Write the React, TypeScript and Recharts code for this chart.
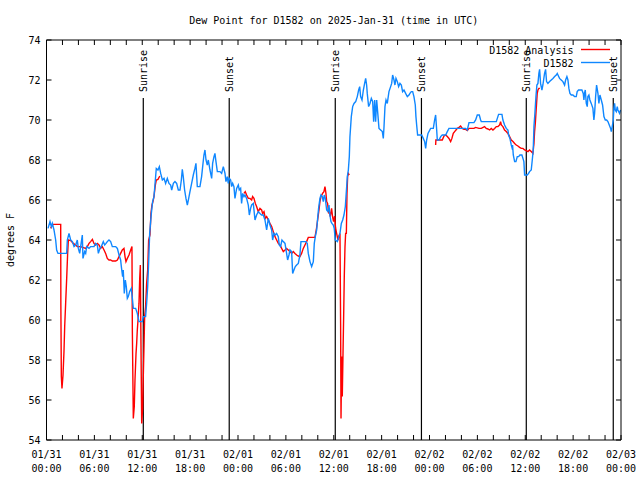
import React from "react";
import { LineChart, Line, XAxis, YAxis, ReferenceLine } from "recharts";

// hours since 01/31 00:00 UTC, dew point in °F
const OBS: [number, number][] = [
  [0.19, 64.58], [0.44, 64.92], [0.61, 64.67], [0.73, 64.83], [0.94, 64.5], [1.15, 64.0], [1.27, 63.5], [1.44, 63.33],
  [2.53, 63.33], [2.61, 64.0], [2.82, 64.33], [3.03, 64.0], [3.24, 63.92], [3.45, 63.67], [3.66, 63.75], [3.86, 64.0],
  [3.99, 63.58], [4.16, 63.33], [4.28, 63.67], [4.49, 64.25], [4.57, 63.08], [4.78, 63.42], [4.91, 63.33], [5.03, 63.67],
  [5.33, 63.58], [5.53, 63.67], [5.95, 63.67], [6.16, 63.83], [6.37, 63.75], [6.5, 63.33], [6.7, 63.58], [6.87, 63.67],
  [7.12, 63.92], [7.29, 63.75], [7.46, 63.83], [7.62, 63.92], [7.83, 64.0], [8.04, 63.92], [8.25, 63.67], [8.67, 63.67],
  [8.88, 63.58], [9.09, 63.25], [9.29, 63.0], [9.38, 62.67], [9.54, 62.17], [9.62, 62.5], [9.75, 61.33], [9.88, 62.0],
  [10.0, 61.67], [10.13, 61.08], [10.25, 61.17], [10.42, 61.42], [10.63, 61.58], [10.76, 61.08], [10.88, 60.58], [11.17, 60.58],
  [11.38, 60.33], [11.59, 59.92], [12.01, 59.92], [12.13, 60.17], [12.42, 60.17], [12.55, 60.83], [12.68, 61.67], [12.8, 62.83],
  [12.93, 64.33], [13.14, 65.33], [13.3, 65.92], [13.47, 66.17], [13.64, 67.0], [13.76, 67.58], [13.97, 67.5], [14.14, 67.67],
  [14.31, 67.33], [14.52, 67.0], [14.73, 67.08], [14.93, 66.83], [15.14, 67.08], [15.35, 66.83], [15.56, 66.75], [15.69, 66.5],
  [15.9, 66.83], [16.1, 66.92], [16.31, 66.83], [16.52, 66.5], [16.73, 66.5], [16.9, 67.0], [17.02, 67.53], [17.14, 67.17],
  [17.31, 66.5], [17.48, 66.08], [17.65, 65.75], [17.82, 66.08], [17.98, 66.42], [18.19, 66.83], [18.4, 67.25], [18.6, 67.58],
  [18.73, 67.83], [18.9, 66.67], [19.23, 66.67], [19.44, 67.17], [19.57, 67.67], [19.73, 68.25], [19.86, 68.5], [19.99, 68.0],
  [20.15, 67.75], [20.28, 68.0], [20.49, 67.5], [20.7, 67.08], [20.82, 67.83], [20.99, 68.17], [21.11, 68.33], [21.24, 67.92],
  [21.41, 67.42], [21.74, 67.42], [21.95, 67.33], [22.16, 67.67], [22.37, 67.33], [22.49, 66.92], [22.66, 67.17], [22.78, 66.83],
  [22.91, 67.08], [23.08, 67.0], [23.2, 66.67], [23.33, 66.83], [23.49, 66.67], [23.62, 66.08], [23.83, 66.58], [24.04, 66.75],
  [24.16, 66.5], [24.33, 66.58], [24.45, 65.83], [24.58, 66.33], [24.75, 66.17], [24.87, 66.25], [25.08, 66.08], [25.29, 65.75],
  [25.42, 65.25], [25.58, 65.58], [25.71, 65.75], [25.92, 65.83], [26.13, 65.0], [26.33, 65.25], [26.54, 65.42], [26.75, 65.33],
  [26.96, 65.25], [27.17, 65.25], [27.38, 65.0], [27.59, 64.5], [27.8, 65.08], [28.01, 64.75], [28.22, 64.5], [28.34, 64.0],
  [28.51, 64.33], [28.67, 64.25], [28.84, 64.33], [29.05, 64.17], [29.17, 63.75], [29.34, 63.67], [29.51, 64.0], [29.68, 63.92],
  [29.89, 63.83], [30.09, 63.33], [30.22, 63.0], [30.39, 63.25], [30.51, 63.5], [30.72, 63.42], [30.85, 62.33], [31.01, 62.5],
  [31.18, 62.67], [31.35, 62.75], [31.56, 62.83], [31.76, 63.25], [31.89, 63.92], [32.18, 63.92], [32.52, 63.92], [32.68, 63.83],
  [32.81, 63.33], [33.02, 62.92], [33.23, 62.67], [33.44, 62.92], [33.56, 63.83], [33.69, 64.17], [33.86, 64.5], [33.98, 65.08],
  [34.1, 65.58], [34.27, 66.08], [34.4, 66.25], [34.56, 66.17], [34.69, 65.92], [34.81, 66.25], [34.94, 66.08], [35.11, 65.5],
  [35.27, 65.42], [35.4, 65.75], [35.52, 65.25], [35.65, 64.92], [35.77, 64.83], [35.94, 64.75], [36.06, 64.58], [36.19, 64.0],
  [36.45, 63.92], [36.65, 64.17], [36.78, 64.33], [36.95, 64.83], [37.12, 65.0], [37.28, 65.25], [37.45, 65.67], [37.62, 66.67],
  [37.7, 67.17], [37.83, 67.5], [37.95, 68.17], [38.03, 69.17], [38.2, 70.17], [38.37, 70.67], [38.54, 70.83], [38.75, 70.92],
  [38.95, 71.17], [39.12, 71.5], [39.25, 71.67], [39.37, 71.17], [39.54, 71.0], [39.71, 71.5], [39.87, 71.83], [40.0, 72.08],
  [40.12, 71.75], [40.2, 71.33], [40.37, 70.67], [40.54, 70.83], [40.71, 71.08], [40.88, 70.92], [41.0, 69.92], [41.13, 71.0],
  [41.25, 69.92], [41.38, 71.0], [41.5, 70.42], [41.67, 69.58], [41.88, 69.5], [42.09, 69.42], [42.21, 69.08], [42.3, 69.67],
  [42.42, 70.67], [42.55, 71.0], [42.71, 70.83], [42.92, 71.42], [43.13, 71.67], [43.26, 71.83], [43.38, 72.25], [43.55, 72.0],
  [43.67, 71.75], [43.8, 72.08], [43.97, 71.92], [44.13, 71.67], [44.3, 71.83], [44.47, 71.75], [44.63, 71.42], [44.8, 71.5],
  [45.01, 71.33], [45.22, 71.17], [45.43, 71.25], [45.55, 71.33], [45.72, 71.42], [45.89, 71.42], [46.05, 71.17], [46.22, 70.75],
  [46.3, 70.17], [46.39, 69.75], [46.51, 69.25], [46.81, 69.25], [47.02, 69.25], [47.22, 69.08], [47.39, 68.92], [47.52, 68.58],
  [47.64, 69.0], [47.81, 69.33], [48.14, 69.58], [48.48, 69.58], [48.64, 70.0], [48.77, 70.25], [48.9, 69.5], [48.98, 69.0],
  [49.19, 69.0], [49.4, 69.17], [49.6, 69.25], [49.82, 69.25], [50.03, 69.25], [50.23, 69.42], [50.44, 69.58], [51.07, 69.58],
  [51.9, 69.58], [52.53, 69.58], [52.74, 69.5], [52.95, 69.87], [53.57, 69.87], [53.78, 70.0], [53.99, 70.25], [54.24, 70.25],
  [54.41, 70.0], [54.49, 69.92], [56.37, 69.92], [56.5, 70.08], [56.66, 70.28], [57.08, 70.28], [57.2, 70.0], [57.41, 69.75],
  [57.62, 69.58], [57.83, 69.5], [57.91, 69.25], [58.08, 69.08], [58.25, 68.75], [58.33, 68.63], [58.41, 68.75], [58.5, 68.25],
  [58.67, 67.92], [58.83, 67.92], [59.0, 68.17], [59.17, 68.17], [59.33, 68.25], [59.58, 68.25], [59.71, 68.08], [59.83, 67.92],
  [59.92, 67.25], [60.25, 67.25], [60.42, 67.33], [60.54, 67.42], [60.75, 67.5], [60.88, 68.0], [61.0, 68.5], [61.09, 69.67],
  [61.21, 70.33], [61.34, 71.17], [61.46, 71.75], [61.59, 71.83], [61.71, 72.33], [61.8, 72.53], [61.92, 71.83], [62.09, 71.5],
  [62.21, 71.75], [62.42, 72.33], [62.55, 72.53], [62.67, 71.92], [62.84, 71.83], [63.05, 71.92], [63.26, 72.0], [63.47, 72.08],
  [63.68, 72.17], [63.89, 72.25], [64.01, 72.33], [64.1, 72.25], [64.3, 72.08], [64.51, 72.0], [64.72, 71.92], [64.93, 71.75],
  [65.06, 72.0], [65.22, 72.17], [65.35, 72.0], [65.47, 71.58], [65.6, 71.33], [65.77, 71.25], [65.97, 71.25], [66.18, 71.17],
  [66.39, 71.17], [66.51, 71.42], [66.68, 71.5], [66.93, 71.5], [67.1, 71.5], [67.27, 71.33], [67.35, 71.0], [67.43, 71.33],
  [67.52, 71.5], [67.65, 70.83], [67.77, 70.67], [67.85, 71.17], [67.98, 71.25], [68.1, 71.0], [68.27, 70.83], [68.48, 70.58],
  [68.6, 70.0], [68.69, 70.33], [68.82, 71.17], [68.94, 71.75], [69.11, 71.33], [69.23, 70.83], [69.36, 71.25], [69.53, 71.0],
  [69.69, 70.75], [69.86, 70.17], [70.03, 70.0], [70.2, 70.0], [70.36, 69.92], [70.53, 69.75], [70.7, 69.58], [70.78, 69.42],
  [70.9, 69.67], [71.03, 70.0], [71.11, 70.58], [71.2, 70.83], [71.28, 70.5], [71.41, 70.42], [71.53, 70.67], [71.61, 70.5],
  [71.82, 70.33], [71.95, 70.5],
];

// null = no analysis value (breaks the line)
const ANALYSIS: [number, number | null][] = [
  [0.52, 64.58], [0.73, 64.75], [0.86, 64.78], [1.78, 64.78], [1.8, 60.75], [1.86, 57.17], [1.94, 56.58], [2.07, 57.25],
  [2.19, 58.42], [2.28, 59.67], [2.4, 60.83], [2.53, 62.08], [2.65, 63.33], [2.74, 64.0], [3.03, 63.97], [3.36, 63.83],
  [3.66, 63.75], [3.86, 63.67], [4.28, 63.67], [4.91, 63.58], [5.12, 63.67], [5.33, 63.83], [5.53, 63.92], [5.75, 64.03],
  [5.95, 63.83], [6.16, 63.75], [6.37, 63.83], [6.58, 63.75], [6.79, 63.58], [7.0, 63.67], [7.21, 63.5], [7.41, 63.33],
  [7.62, 63.08], [7.83, 63.0], [8.04, 63.0], [8.25, 62.95], [8.67, 62.95], [8.88, 63.0], [9.09, 63.17], [9.29, 63.33],
  [9.5, 63.5], [9.71, 63.58], [9.84, 63.17], [9.96, 62.92], [10.13, 63.08], [10.34, 63.25], [10.55, 63.5], [10.71, 63.67],
  [10.76, 59.42], [10.88, 55.08], [11.0, 55.67], [11.09, 57.0], [11.22, 58.33], [11.3, 58.83], [11.38, 59.5], [11.47, 60.0],
  [11.59, 60.83], [11.68, 62.08], [11.76, 62.75], [11.84, 58.83], [11.93, 54.83], [12.05, 55.58], [12.13, 57.17], [12.22, 58.67],
  [12.3, 60.17], [12.42, 60.67], [12.55, 61.83], [12.68, 62.5], [12.8, 64.0], [12.97, 64.25], [13.09, 65.33], [13.22, 65.75],
  [13.34, 65.92], [13.47, 66.17], [13.64, 66.75], [13.76, 67.0], [13.97, 67.03], [14.2, 67.2], [14.3, null],
  [24.75, 66.33], [24.91, 66.42], [25.08, 66.25], [25.29, 66.08], [25.5, 66.08], [25.71, 66.0], [25.83, 66.17], [26.0, 66.08],
  [26.17, 65.83], [26.33, 65.67], [26.54, 65.42], [26.75, 65.58], [26.96, 65.5], [27.09, 65.33], [27.26, 65.42], [27.42, 65.08],
  [27.59, 65.17], [27.8, 65.0], [28.0, 64.83], [28.22, 64.67], [28.42, 64.42], [28.63, 64.17], [28.84, 64.0], [29.05, 63.83],
  [29.26, 63.75], [29.47, 63.58], [29.68, 63.42], [29.89, 63.5], [30.09, 63.58], [30.3, 63.5], [30.51, 63.42], [30.72, 63.33],
  [30.93, 63.42], [31.14, 63.33], [31.35, 63.25], [31.56, 63.2], [31.76, 63.17], [31.97, 63.33], [32.18, 63.58], [32.39, 63.75],
  [32.6, 63.92], [32.81, 64.13], [33.64, 64.13], [33.81, 64.5], [33.98, 65.0], [34.15, 65.5], [34.27, 65.92], [34.4, 66.17],
  [34.6, 66.33], [34.77, 66.42], [34.9, 66.67], [35.02, 66.33], [35.11, 65.92], [35.23, 65.83], [35.36, 65.33], [35.44, 65.42],
  [35.56, 65.17], [35.73, 65.58], [35.85, 65.17], [35.98, 64.92], [36.1, 65.2], [36.23, 64.6], [36.36, 64.33], [36.53, 64.0],
  [36.65, 64.2], [36.78, 64.33], [36.86, 59.83], [36.91, 55.08], [36.99, 58.17], [37.07, 56.17], [37.16, 58.33], [37.24, 60.17],
  [37.32, 62.17], [37.41, 63.67], [37.49, 64.33], [37.58, 64.33], [37.66, 66.33], [37.74, 67.17], [37.83, 67.33], [37.95, 67.25],
  [38.0, null],
  [48.77, 68.75], [48.8, 69.0], [49.19, 69.0], [49.6, 69.0], [49.82, 69.2], [50.03, 69.25], [50.23, 69.17], [50.44, 69.08],
  [50.65, 68.92], [50.81, 69.08], [50.98, 69.33], [51.15, 69.42], [51.32, 69.5], [51.49, 69.58], [51.7, 69.63], [51.9, 69.7],
  [52.11, 69.58], [52.32, 69.53], [52.53, 69.53], [52.74, 69.47], [52.95, 69.58], [53.16, 69.58], [53.57, 69.58], [53.78, 69.63],
  [54.2, 69.58], [54.49, 69.58], [54.9, 69.67], [55.11, 69.58], [55.32, 69.55], [55.53, 69.5], [55.74, 69.58], [55.95, 69.5],
  [56.16, 69.58], [56.37, 69.67], [56.58, 69.67], [56.79, 69.75], [56.91, 69.92], [57.0, 69.75], [57.2, 69.67], [57.41, 69.5],
  [57.62, 69.42], [57.83, 69.33], [58.04, 69.17], [58.25, 69.0], [58.46, 68.92], [58.67, 68.83], [58.87, 68.75], [59.08, 68.7],
  [59.29, 68.63], [59.5, 68.58], [59.71, 68.58], [59.92, 68.5], [60.13, 68.47], [60.34, 68.42], [60.54, 68.5], [60.75, 68.42],
  [60.96, 68.33], [61.09, 68.83], [61.17, 69.42], [61.26, 69.83], [61.34, 70.33], [61.42, 70.83], [61.5, 71.33], [61.59, 71.5],
  [61.71, 71.58], [61.84, 71.58],
];

const HOUR_TICKS = [0, 2, 4, 6, 8, 10, 12, 14, 16, 18, 20, 22, 24, 26, 28, 30, 32, 34, 36, 38, 40, 42, 44, 46, 48, 50, 52, 54, 56, 58, 60, 62, 64, 66, 68, 70, 72];
const DATE_LABELS = ["01/31", "01/31", "01/31", "01/31", "02/01", "02/01", "02/01", "02/01", "02/02", "02/02", "02/02", "02/02", "02/03"];
const TIME_LABELS = ["00:00", "06:00", "12:00", "18:00", "00:00", "06:00", "12:00", "18:00", "00:00", "06:00", "12:00", "18:00", "00:00"];
const Y_TICKS = [54, 56, 58, 60, 62, 64, 66, 68, 70, 72, 74];

const SUN_HOURS = [12.13, 22.9, 36.19, 46.99, 60.13, 71.03];
const SUN_NAMES = ["Sunrise", "Sunset", "Sunrise", "Sunset", "Sunrise", "Sunset"];

const FONT = "'DejaVu Sans Mono', monospace";
const BLUE = "#0f87ff";
const RED = "#ff0000";
const TICK = 5;

function BottomTick(props: any) {
  const { x, y, payload } = props;
  const t = payload.value;
  const idx = t / 6;
  const labelled = Number.isInteger(idx);
  return (
    <g>
      <line x1={x} y1={y} x2={x} y2={y - TICK} stroke="#000" />
      {labelled && (
        <text x={x} y={y + 18} textAnchor="middle" fontFamily={FONT} fontSize={10} fill="#000">
          {DATE_LABELS[idx]}
        </text>
      )}
      {labelled && (
        <text x={x} y={y + 32} textAnchor="middle" fontFamily={FONT} fontSize={10} fill="#000">
          {TIME_LABELS[idx]}
        </text>
      )}
    </g>
  );
}

function TopTick(props: any) {
  const { x, y } = props;
  return <line x1={x} y1={y} x2={x} y2={y + TICK} stroke="#000" />;
}

function LeftTick(props: any) {
  const { x, y, payload } = props;
  return (
    <g>
      <line x1={x} y1={y} x2={x + TICK} y2={y} stroke="#000" />
      <text x={x - 6} y={y + 3.5} textAnchor="end" fontFamily={FONT} fontSize={10} fill="#000">
        {payload.value}
      </text>
    </g>
  );
}

function RightTick(props: any) {
  const { x, y } = props;
  return <line x1={x} y1={y} x2={x - TICK} y2={y} stroke="#000" />;
}

function SunLabel(props: any) {
  const { viewBox, text } = props;
  if (!viewBox) return null;
  const x = viewBox.x + 3.5;
  const y = viewBox.y - 6;
  return (
    <text
      x={x}
      y={y}
      transform={`rotate(-90 ${x} ${y})`}
      textAnchor="start"
      fontFamily={FONT}
      fontSize={10}
      fill="#000"
    >
      {text}
    </text>
  );
}

export default function App() {
  const obsData = OBS.map(([t, v]) => ({ t, v }));
  const anaData = ANALYSIS.map(([t, v]) => ({ t, v }));

  return (
    <div style={{ position: "absolute", left: 0, top: 0, width: 640, height: 480, background: "#fff" }}>
      <LineChart width={640} height={480} margin={{ top: 10, right: 0, bottom: 0, left: 0 }}>
        <XAxis
          xAxisId="b"
          dataKey="t"
          type="number"
          domain={[0, 72]}
          ticks={HOUR_TICKS}
          interval={0}
          allowDataOverflow
          height={40}
          tickSize={0}
          tickMargin={0}
          tickLine={false}
          axisLine={{ stroke: "#000" }}
          tick={<BottomTick />}
        />
        <XAxis
          xAxisId="top"
          orientation="top"
          dataKey="t"
          type="number"
          domain={[0, 72]}
          ticks={HOUR_TICKS}
          interval={0}
          allowDataOverflow
          height={30}
          tickSize={0}
          tickMargin={0}
          tickLine={false}
          axisLine={{ stroke: "#000" }}
          tick={<TopTick />}
        />
        <YAxis
          yAxisId="l"
          type="number"
          domain={[54, 74]}
          ticks={Y_TICKS}
          interval={0}
          allowDataOverflow
          width={46.5}
          tickSize={0}
          tickMargin={0}
          tickLine={false}
          axisLine={{ stroke: "#000" }}
          tick={<LeftTick />}
        />
        <YAxis
          yAxisId="r"
          orientation="right"
          type="number"
          domain={[54, 74]}
          ticks={Y_TICKS}
          interval={0}
          allowDataOverflow
          width={19}
          tickSize={0}
          tickMargin={0}
          tickLine={false}
          axisLine={{ stroke: "#000" }}
          tick={<RightTick />}
        />
        {SUN_HOURS.map((t, i) => (
          <ReferenceLine
            key={i}
            xAxisId="b"
            yAxisId="l"
            segment={[{ x: t, y: 71.1 }, { x: t, y: 54 }]}
            stroke="#000"
            strokeWidth={1.2}
            label={<SunLabel text={SUN_NAMES[i]} />}
          />
        ))}
        <Line
          xAxisId="b"
          yAxisId="l"
          data={anaData}
          dataKey="v"
          type="linear"
          stroke={RED}
          strokeWidth={1.4}
          dot={false}
          activeDot={false}
          isAnimationActive={false}
        />
        <Line
          xAxisId="b"
          yAxisId="l"
          data={obsData}
          dataKey="v"
          type="linear"
          stroke={BLUE}
          strokeWidth={1.4}
          dot={false}
          activeDot={false}
          isAnimationActive={false}
        />
      </LineChart>
      <svg
        width={640}
        height={480}
        style={{ position: "absolute", left: 0, top: 0, pointerEvents: "none" }}
        fontFamily={FONT}
        fontSize={10}
      >
        <text x={333.75} y={23.5} textAnchor="middle" fill="#000">
          Dew Point for D1582 on 2025-Jan-31 (time in UTC)
        </text>
        <text x={14} y={240} textAnchor="middle" transform="rotate(-90 14 240)" fill="#000">
          degrees F
        </text>
        <text x={573.5} y={54} textAnchor="end" fill="#000">
          D1582 Analysis
        </text>
        <line x1={581} y1={49.5} x2={610} y2={49.5} stroke={RED} strokeWidth={1.4} />
        <text x={573.5} y={67} textAnchor="end" fill="#000">
          D1582
        </text>
        <line x1={581} y1={62.5} x2={610} y2={62.5} stroke={BLUE} strokeWidth={1.4} />
      </svg>
    </div>
  );
}
